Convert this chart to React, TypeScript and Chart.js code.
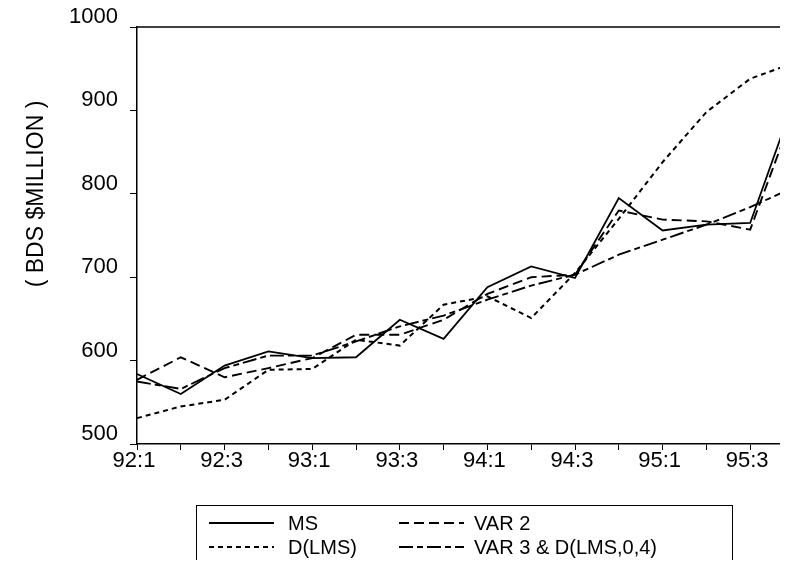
import React, { useEffect, useRef } from "react";
import { Chart, registerables } from "chart.js";

Chart.register(...registerables);

// ---- data ----
const quarters = [
  "92:1", "92:2", "92:3", "92:4",
  "93:1", "93:2", "93:3", "93:4",
  "94:1", "94:2", "94:3", "94:4",
  "95:1", "95:2", "95:3", "95:4",
];
const msValues = [584, 560, 594, 611, 603, 604, 649, 626, 688, 713, 699, 795, 756, 763, 765, 912];
const var2Values = [577, 604, 580, 591, 603, 631, 631, 649, 680, 700, 703, 780, 769, 767, 757, 899];
const dlmsValues = [531, 545, 553, 589, 590, 625, 618, 667, 677, 651, 705, 770, 838, 898, 938, 957];
const var3Values = [575, 566, 591, 606, 606, 623, 641, 654, 673, 690, 703, 727, 745, 763, 784, 808];
const yMin = 500;
const yMax = 1000;
const yStep = 100;
const yTitle = "( BDS $MILLION )";
const seriesNames = ["MS", "VAR 2", "D(LMS)", "VAR 3 & D(LMS,0,4)"];

const FONT = '"Liberation Sans", Arial, Helvetica, sans-serif';

const dashes: number[][] = [[], [10, 5], [5, 4], [14, 4, 6, 4]];
const widths = [1.8, 1.9, 2, 1.9];

const CW = 800; // canvas is wider than the visible area; the last quarter sits just past the right edge
const CH = 560;

const framePlugin = {
  id: "frameAndTitle",
  afterDraw(chart: any) {
    const { ctx, chartArea: a } = chart;
    ctx.save();
    ctx.strokeStyle = "#000";
    ctx.lineWidth = 1.5;
    ctx.beginPath();
    ctx.moveTo(a.left, a.top);
    ctx.lineTo(a.right, a.top);
    ctx.stroke();
    ctx.translate(29, 186);
    ctx.rotate(-Math.PI / 2);
    ctx.font = `23px ${FONT}`;
    ctx.fillStyle = "#000";
    ctx.textAlign = "center";
    ctx.textBaseline = "middle";
    ctx.fillText(yTitle, 0, 0);
    ctx.restore();
  },
};

function ChartCanvas() {
  const ref = useRef<HTMLCanvasElement | null>(null);
  useEffect(() => {
    document.documentElement.style.overflow = "hidden";
    const canvas = ref.current!;
    const data = [msValues, var2Values, dlmsValues, var3Values];
    const chart = new Chart(canvas, {
      type: "line",
      data: {
        labels: quarters,
        datasets: data.map((d, i) => ({
          label: seriesNames[i],
          data: d,
          borderColor: "#000",
          backgroundColor: "#000",
          borderWidth: widths[i],
          borderDash: dashes[i],
          pointRadius: 0,
          tension: 0,
          fill: false,
        })),
      },
      options: {
        responsive: false,
        animation: false,
        events: [],
        layout: { padding: { left: 0, top: 19, right: 14, bottom: 0 } },
        plugins: {
          legend: { display: false },
          tooltip: { enabled: false },
          title: { display: false },
        },
        scales: {
          x: {
            type: "category",
            offset: false,
            afterFit: (s: any) => {
              s.height = 124;
              s.paddingLeft = 0;
              s.paddingRight = 0;
            },
            border: { display: true, color: "#000", width: 1.5 },
            grid: {
              display: true,
              drawOnChartArea: false,
              drawTicks: true,
              tickLength: 6,
              color: "#000",
              lineWidth: 1,
            },
            ticks: {
              autoSkip: false,
              maxRotation: 0,
              minRotation: 0,
              padding: 0,
              labelOffset: -3,
              color: "#000",
              font: { family: FONT, size: 22, lineHeight: 1 },
              callback: (_v: any, i: number) => (i % 2 === 0 ? quarters[i] : ""),
            },
          },
          y: {
            min: yMin,
            max: yMax,
            afterFit: (s: any) => {
              s.width = 129;
              s.paddingTop = 0;
              s.paddingBottom = 0;
            },
            border: { display: true, color: "#000", width: 1.5 },
            grid: {
              display: true,
              drawOnChartArea: false,
              drawTicks: true,
              tickLength: 7,
              color: "#000",
              lineWidth: 1,
            },
            ticks: {
              stepSize: yStep,
              padding: 12,
              labelOffset: -10,
              color: "#000",
              font: { family: FONT, size: 22 },
              callback: (v: any) => String(v),
            },
          },
        },
      },
      plugins: [framePlugin],
    } as any);
    return () => chart.destroy();
  }, []);
  return (
    <canvas
      ref={ref}
      width={CW}
      height={CH}
      style={{ position: "absolute", left: 0, top: 0, width: CW, height: CH }}
    />
  );
}

function LegendBox() {
  const rows = [
    { y: 17, items: [0, 1] },
    { y: 41, items: [2, 3] },
  ];
  const colSampleX = [12, 202];
  const colTextX = [91, 277];
  const sampleW = 65;
  return (
    <div
      style={{
        position: "absolute",
        left: 188,
        top: 497,
        width: 537,
        height: 90,
        border: "1.5px solid #000",
        boxSizing: "border-box",
        fontFamily: FONT,
        fontSize: 20,
        color: "#000",
      }}
    >
      <svg width={536} height={70} style={{ position: "absolute", left: 0, top: 0 }}>
        {rows.map((r) =>
          r.items.map((it, c) => (
            <line
              key={it}
              x1={colSampleX[c]}
              x2={colSampleX[c] + sampleW}
              y1={r.y}
              y2={r.y}
              stroke="#000"
              strokeWidth={widths[it]}
              strokeDasharray={dashes[it].length ? dashes[it].join(" ") : undefined}
            />
          ))
        )}
      </svg>
      {rows.map((r) =>
        r.items.map((it, c) => (
          <span
            key={"t" + it}
            style={{
              position: "absolute",
              left: colTextX[c],
              top: r.y - 12,
              lineHeight: "24px",
              whiteSpace: "nowrap",
            }}
          >
            {seriesNames[it]}
          </span>
        ))
      )}
    </div>
  );
}

export default function App() {
  return (
    <div
      style={{
        position: "relative",
        width: 780,
        height: CH,
        overflow: "hidden",
        marginBottom: -8,
        background: "#fff",
      }}
    >
      <ChartCanvas />
      <LegendBox />
    </div>
  );
}
